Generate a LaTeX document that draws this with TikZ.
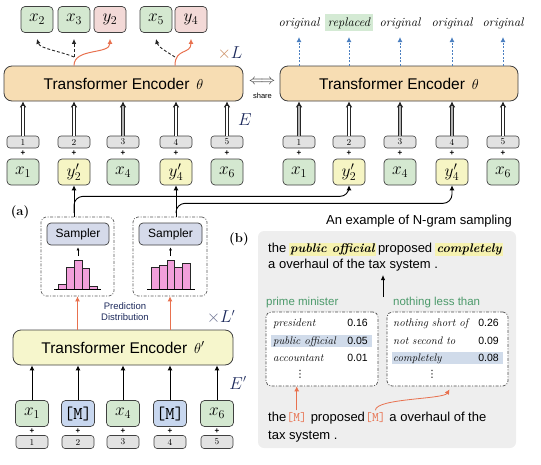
\documentclass[tikz,border=0pt]{standalone}
\usepackage{fontspec}
\newfontfamily\sansf{Liberation Sans}
\newfontfamily\djv{DejaVu Sans}
\usetikzlibrary{arrows.meta}
\definecolor{tokgreen}{HTML}{D4E8D0}
\definecolor{tokyellow}{HTML}{F6F5C4}
\definecolor{tokpink}{HTML}{F3D9D7}
\definecolor{tokblue}{HTML}{C8D7EF}
\definecolor{encorange}{HTML}{F7DDB3}
\definecolor{encyellow}{HTML}{F6F6CC}
\definecolor{posgray}{HTML}{E2E2E2}
\definecolor{samplerfill}{HTML}{D5DAEA}
\definecolor{histpink}{HTML}{F29FDB}
\definecolor{orangeA}{HTML}{E8714F}
\definecolor{blueA}{HTML}{4B7FC0}
\definecolor{panelgray}{HTML}{EEEEEE}
\definecolor{hlyellow}{HTML}{F6F2B0}
\definecolor{hlblue}{HTML}{D0DBEA}
\definecolor{hlgreen}{HTML}{D4EAD4}
\definecolor{greentext}{HTML}{4C9A6B}
\definecolor{navy}{HTML}{1D2A5C}
\definecolor{timesorange}{HTML}{C98A5E}
\definecolor{timesblue}{HTML}{6A7090}
\begin{document}
\begin{tikzpicture}[x=1pt,y=-1pt,
 tok/.style={draw=black!75, rounded corners=4pt, minimum width=32pt, minimum height=26pt, inner sep=0pt, line width=0.7pt, font=\fontsize{18}{18}\selectfont},
 posbox/.style={draw=black!75, fill=posgray, rounded corners=3pt, minimum width=32pt, minimum height=12pt, inner sep=0pt, line width=0.6pt, font=\fontsize{9}{9}\selectfont},
 plus/.style={inner sep=0pt, font=\sansf\bfseries\fontsize{8}{8}\selectfont},
 enc/.style={draw=black!75, rounded corners=8pt, line width=0.8pt, inner sep=0pt, minimum height=35pt, font=\sansf\fontsize{15.5}{18}\selectfont},
 dbl/.style={draw=black!85, line width=3.2pt, -{Latex[length=6pt,width=7pt]}, postaction={draw=#1, line width=1.4pt, -, shorten >=5pt}},
 blk/.style={line width=0.9pt, -{Latex[length=5pt,width=5pt]}},
 oarr/.style={draw=orangeA, line width=1pt, -{Latex[length=5pt,width=5pt]}},
 dsh/.style={black!85, line width=0.9pt, dash pattern=on 3pt off 2pt, -{Latex[length=5pt,width=4.5pt]}},
 barr/.style={blueA, line width=1pt, dash pattern=on 2pt off 1.5pt, -{Latex[length=5pt,width=5pt]}},
 dd/.style={draw=black!65, line width=0.7pt, dash pattern=on 3pt off 1.5pt on 1pt off 1.5pt, rounded corners=5pt, inner sep=0pt},
 lab/.style={font=\fontsize{12.5}{12.5}\selectfont\itshape, inner sep=0pt},
 sent/.style={font=\sansf\fontsize{13}{15}\selectfont, inner sep=0pt},
 hl/.style={font=\fontsize{12.5}{15}\selectfont\bfseries\itshape, inner xsep=1.5pt, inner ysep=0pt, text height=10pt, text depth=3pt, fill=hlyellow},
 samp/.style={draw=black!75, fill=samplerfill, rounded corners=4pt, line width=0.7pt, minimum width=62pt, minimum height=22pt, inner sep=0pt, font=\sansf\fontsize{12}{12}\selectfont},
 bar/.style={fill=histpink, draw=black!85, line width=0.6pt},
 row/.style={font=\fontsize{11}{11}\selectfont\itshape, inner sep=0pt},
 num/.style={font=\sansf\fontsize{10.5}{11}\selectfont, inner sep=0pt},
 capt/.style={font=\sansf\fontsize{11.5}{12}\selectfont, text=greentext, inner sep=0pt},
 mm/.style={font=\ttfamily\fontsize{13}{15}\selectfont, text=orangeA, inner sep=0pt},
 vd/.style={inner sep=0pt, font=\djv\fontsize{10}{10}\selectfont}
]
\useasboundingbox (0,0) rectangle (541,464);

%================ top =================
\node[enc, fill=encorange, minimum width=239pt] (encL) at (123.5,83.5) {Transformer Encoder~\,$\theta$};
\node[enc, fill=encorange, minimum width=238pt] (encR) at (399,83.5) {Transformer Encoder~\,$\theta$};

\foreach \i/\x/\c/\t/\dc in {1/23/tokgreen/{$x_1$}/white,2/74/tokyellow/{$y'_2$}/white,3/123/tokgreen/{$x_4$}/gray!60,4/176/tokyellow/{$y'_4$}/white,5/227/tokgreen/{$x_6$}/white} {
  \node[tok, fill=\c] (la\i) at (\x,172) {\t};
  \node[posbox] (lp\i) at (\x,142) {\i};
  \node[plus] (lpl\i) at (\x,153.5) {+};
  \draw[dbl=\dc] (lp\i.north) -- (lp\i.north |- encL.south);
}
\foreach \i/\x/\c/\t/\dc in {1/299/tokgreen/{$x_1$}/gray!60,2/349/tokyellow/{$y'_2$}/white,3/400/tokgreen/{$x_4$}/gray!60,4/452/tokyellow/{$y'_4$}/gray!60,5/503/tokgreen/{$x_6$}/white} {
  \node[tok, fill=\c] (ra\i) at (\x,172) {\t};
  \node[posbox] (rp\i) at (\x,142) {\i};
  \node[plus] (rpl\i) at (\x,153.5) {+};
  \draw[dbl=\dc] (rp\i.north) -- (rp\i.north |- encR.south);
}

% outputs
\node[tok, fill=tokgreen] (o1) at (37,19.5) {$x_2$};
\node[tok, fill=tokgreen] (o2) at (74,19.5) {$x_3$};
\node[tok, fill=tokpink] (o3) at (110,19.5) {$y_2$};
\node[tok, fill=tokgreen] (o4) at (156,19.5) {$x_5$};
\node[tok, fill=tokpink] (o5) at (191,19.5) {$y_4$};

\coordinate (c1) at (74,57);
\coordinate (c2) at (175,57);
\draw[dsh] (c1) .. controls +(-14,-6) and +(3,10) .. ([yshift=-6pt]o1.south);
\draw[dsh] (c1) -- ([yshift=-6pt]o2.south);
\draw[oarr] (encL.north -| c1) .. controls +(0,-18) and +(0,16) .. ([yshift=-6pt]o3.south);
\draw[dsh] (c2) .. controls +(-8,-5) and +(2,8) .. ([yshift=-6pt]o4.south);
\draw[oarr] (encL.north -| c2) .. controls +(0,-18) and +(0,16) .. ([yshift=-6pt]o5.south);

\node[inner sep=0pt, font=\fontsize{16}{16}\selectfont] (tl) at (230,53) {$\textcolor{timesorange}{\times}\textcolor{navy}{L}$};
\node[inner sep=0pt, font=\fontsize{16}{16}\selectfont, text=navy] (te) at (245,120) {$E$};

% share
\node[inner sep=0pt, font=\fontsize{15}{15}\selectfont, text=black!80] (shr) at (262,82) {$\Longleftrightarrow$};
\node[font=\sansf\fontsize{7.5}{8}\selectfont, inner sep=0pt] (share) at (262.5,96) {share};

% right labels
\foreach \i/\t in {1/original,3/original,4/original,5/original} {
  \node[lab, anchor=base] (lab\i) at (ra\i.north |- 0,26) {\t};
}
\node[lab, anchor=base, fill=hlgreen, inner xsep=3pt, inner ysep=3pt] (lab2) at (ra2.north |- 0,26) {replaced};
\foreach \i in {1,...,5} {
  \draw[barr] (encR.north -| ra\i) -- ([yshift=-11pt]lab\i.base);
}

%================ middle (a) =================
\node[font=\bfseries\fontsize{13}{13}\selectfont, inner sep=0pt] (pa) at (20,212) {(a)};
\node[dd, minimum width=73pt, minimum height=79pt] (db1) at (77.5,256.5) {};
\node[dd, minimum width=74pt, minimum height=79pt] (db2) at (170,256.5) {};
\node[samp] (s1) at (78,234) {Sampler};
\node[samp, minimum width=63pt] (s2) at (170.5,234) {Sampler};

% histograms
\draw[bar] (58,289) rectangle (66,284);
\draw[bar] (66,289) rectangle (74,267);
\draw[bar] (74,289) rectangle (82,260);
\draw[bar] (82,289) rectangle (89,268);
\draw[bar] (89,289) rectangle (97,286);
\draw[line width=0.8pt] (54,289) -- (101,289);
\draw[bar] (151,289) rectangle (159,267);
\draw[bar] (159,289) rectangle (167,265);
\draw[bar] (167,289) rectangle (174,260);
\draw[bar] (174,289) rectangle (182,267);
\draw[bar] (182,289) rectangle (190,263);
\draw[line width=0.8pt] (147,289) -- (195,289);
\coordinate (h1) at (78,256);
\coordinate (h2) at (170.5,256);
\draw[line width=0.7pt, -{Latex[length=3pt,width=3pt]}] (h1) -- ([yshift=-2pt]s1.south);
\draw[line width=0.7pt, -{Latex[length=3pt,width=3pt]}] (h2) -- ([yshift=-2pt]s2.south);

\node[font=\sansf\fontsize{9.5}{11}\selectfont, text=navy, align=center, inner sep=0pt] (pd) at (125,312) {Prediction\\Distribution};

% connectors sampler -> tokens
\coordinate (k1) at (74,213);
\coordinate (k2) at (176,213);
\draw[blk] (db1.north -| la2) -- (la2.south);
\draw[blk] (db2.north -| la4) -- (la4.south);
\draw[blk, rounded corners=9pt] (k1) |- ([yshift=-11pt]ra2.south) -- (ra2.south);
\draw[blk, rounded corners=9pt] (k2) |- ([yshift=-18pt]ra4.south) -- (ra4.south);

%================ bottom (a) =================
\node[enc, fill=encyellow, minimum width=220pt] (encB) at (123,347.5) {Transformer Encoder~\,$\theta'$};
\draw[oarr] (encB.north -| db1.south) -- (db1.south);
\draw[oarr] (encB.north -| db2.south) -- (db2.south);
\foreach \i/\x/\c/\t in {1/32/tokgreen/{$x_1$},2/78/tokblue/{\ttfamily [M]},3/123/tokgreen/{$x_4$},4/170/tokblue/{\ttfamily [M]},5/217/tokgreen/{$x_6$}} {
  \node[tok, fill=\c, minimum width=33pt] (ba\i) at (\x,413.5) {\t};
  \node[posbox, minimum height=13pt] (bp\i) at (\x,442) {\i};
  \node[plus] (bpl\i) at (\x,431) {+};
  \draw[blk] (ba\i.north) -- (ba\i.north |- encB.south);
}
\node[inner sep=0pt, font=\fontsize{16}{16}\selectfont] (tl2) at (221,317) {$\textcolor{timesblue}{\times}\textcolor{navy}{L'}$};
\node[inner sep=0pt, font=\fontsize{16}{16}\selectfont, text=navy] (te2) at (238,383) {$E'$};

%================ (b) =================
\node[font=\bfseries\fontsize{13}{13}\selectfont, inner sep=0pt] (pb) at (239,239) {(b)};
\node[fill=panelgray, rounded corners=6pt, minimum width=258pt, minimum height=217pt, inner sep=0pt] (panel) at (387,339.5) {};
\node[font=\sansf\fontsize{13}{13}\selectfont, inner sep=0pt] (title) at (419,221) {An example of N-gram sampling};

\node[sent, anchor=base west] (t1) at (268,252.5) {the};
\node[hl, anchor=base west] (h1n) at ([xshift=2pt]t1.base east) {public official};
\node[sent, anchor=base west] (t2) at ([xshift=1.5pt]h1n.base east) {proposed};
\node[hl, anchor=base west] (h2n) at ([xshift=2.5pt]t2.base east) {completely};
\node[sent, anchor=base west] (t3) at (268,268) {a overhaul of the tax system .};

\coordinate (up1) at (383,297);
\coordinate (up2) at (383,275);
\draw[line width=0.9pt, -{Latex[length=5pt,width=4.5pt]}] (up1) -- (up2);

\node[capt, anchor=base west] (cp1) at (266,305) {prime minister};
\node[capt, anchor=base west] (cp2) at (393,305) {nothing less than};

\node[dd, fill=white, minimum width=112pt, minimum height=74pt, draw=black!70] (b1) at (322,349) {};
\node[dd, fill=white, minimum width=121pt, minimum height=74pt, draw=black!70] (b2) at (447.5,349) {};
\fill[hlblue] (271,335) rectangle (372,347);
\fill[hlblue] (392,352) rectangle (503,364);

\node[row, anchor=base west] (r11) at (273,326.5) {president};
\node[num, anchor=base east] (n11) at (368,326.5) {0.16};
\node[row, anchor=base west] (r12) at (273,344.5) {public official};
\node[num, anchor=base east] (n12) at (368,344.5) {0.05};
\node[row, anchor=base west] (r13) at (273,361.5) {accountant};
\node[num, anchor=base east] (n13) at (368,361.5) {0.01};
\node[vd] (v1) at (300,374) {⋮};
\node[row, anchor=base west] (r21) at (393,326.5) {nothing short of};
\node[num, anchor=base east] (n21) at (499,326.5) {0.26};
\node[row, anchor=base west] (r22) at (393,344.5) {not second to};
\node[num, anchor=base east] (n22) at (499,344.5) {0.09};
\node[row, anchor=base west] (r23) at (393,361.5) {completely};
\node[num, anchor=base east] (n23) at (499,361.5) {0.08};
\node[vd] (v2) at (432,374) {⋮};

\node[sent, anchor=base west] (u1) at (268,421.5) {the\ };
\node[mm, anchor=base west] (m1) at (u1.base east) {[M]};
\node[sent, anchor=base west] (u2) at (m1.base east) {\ proposed\ };
\node[mm, anchor=base west] (m2) at (u2.base east) {[M]};
\node[sent, anchor=base west] (u3) at (m2.base east) {\ a overhaul of the};
\node[sent, anchor=base west] (u4) at (268,439.5) {tax system .};

\draw[oarr, line width=0.8pt] ([yshift=2pt]m1.north) -- (m1.north |- b1.south);
\draw[oarr, line width=0.8pt] ([yshift=2pt]m2.north) .. controls +(0,-12) and +(-6,10) .. ([xshift=2pt,yshift=-3pt]b2.south);
\end{tikzpicture}
\end{document}
